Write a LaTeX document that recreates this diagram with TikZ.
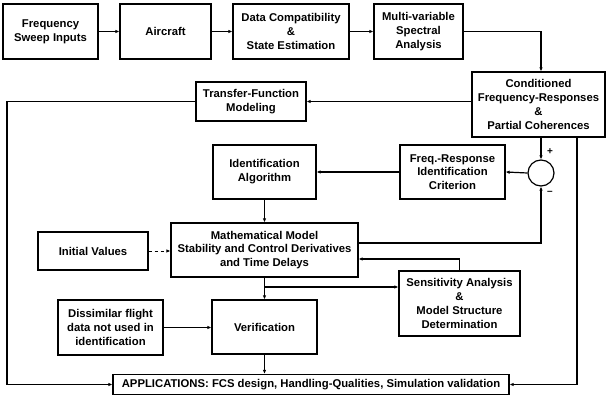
\documentclass[tikz,border=0pt]{standalone}
\usepackage{fontspec}
\setmainfont{Liberation Sans}
\usetikzlibrary{arrows.meta, calc}

\begin{document}
\begin{tikzpicture}[x=1pt, y=-1pt,
  >={Latex[length=4pt,width=3.5pt]},
  blk/.style={draw, line width=1.2pt, align=center, inner sep=0pt,
    font=\bfseries\fontsize{11.3}{13.8}\selectfont},
  link/.style={->, line width=1.2pt},
  wire/.style={line width=1.2pt}]

\useasboundingbox (0,0) rectangle (606,395);

% Top row: test and data processing
\node[blk, minimum width=95, minimum height=55] (sweep) at (50.5,31.5) {Frequency\\Sweep Inputs};
\node[blk, minimum width=91, minimum height=55] (aircraft) at (165.5,31.5) {Aircraft};
\node[blk, minimum width=116, minimum height=55] (datacomp) at (291,31.5) {Data Compatibility\\\&\\State Estimation};
\node[blk, minimum width=89, minimum height=55] (spectral) at (418.5,31.5) {Multi-variable\\Spectral\\Analysis};

% Frequency responses and transfer functions
\node[blk, minimum width=133, minimum height=65] (cond) at (538.5,104.5) {Conditioned\\Frequency-Responses\\\&\\Partial Coherences};
\node[blk, minimum width=110, minimum height=39] (tfm) at (251,101.5) {Transfer-Function\\Modeling};

% Identification loop
\node[blk, minimum width=103, minimum height=54] (ident) at (264.5,172) {Identification\\Algorithm};
\node[blk, minimum width=105, minimum height=54] (crit) at (452.5,172) {Freq.-Response\\Identification\\Criterion};
\node[draw, circle, line width=1.2pt, minimum size=26, inner sep=0pt] (sum) at (541,173) {};
\node[font=\bfseries] (plus) at (550,152) {+};
\node[font=\bfseries] (minus) at (550,193) {--};

\node[blk, minimum width=187, minimum height=54] (mathm) at (264.5,250) {Mathematical Model\\Stability and Control Derivatives\\and Time Delays};
\node[blk, minimum width=110, minimum height=38] (initv) at (93,251) {Initial Values};
\node[blk, minimum width=121, minimum height=65] (sens) at (459.5,303.5) {Sensitivity Analysis\\\&\\Model Structure\\Determination};

% Verification and applications
\node[blk, minimum width=105, minimum height=54] (verif) at (264.5,327) {Verification};
\node[blk, minimum width=105, minimum height=55] (dissim) at (110.5,327.5) {Dissimilar flight\\data not used in\\identification};
\node[blk, minimum width=396, minimum height=20] (apps) at (311,384.5) {APPLICATIONS: FCS design, Handling-Qualities, Simulation validation};

\coordinate (leftrail) at (7,101.5);
\coordinate (rightrail) at (577,137);
\coordinate (split) at (264.5,287);

% Connectors
\draw[link] (sweep) -- (aircraft);
\draw[link] (aircraft) -- (datacomp);
\draw[link] (datacomp) -- (spectral);
\draw[link] (spectral.east) -| (cond.north -| sum);
\draw[link] (cond.west |- tfm) -- (tfm.east);
\draw[link] (tfm.west) -- (leftrail) |- (apps.west);
\draw[link] (cond.south -| sum) -- (sum.north);
\draw[link] (sum.west) -- (crit.east);
\draw[link] (crit.west) -- (ident.east);
\draw[link] (ident.south) -- (mathm.north);
\draw[link, dashed, line width=0.8pt] (initv.east) -- (mathm.west |- initv);
\draw[link] ($(mathm.east)+(0,-7)$) -| (sum.south);
\draw[link] (sens.north) |- ($(mathm.east)+(0,9)$);
\draw[link] (mathm.south) -- (verif.north);
\draw[link] (split) -- (split -| sens.west);
\draw[link] (dissim.east) -- (dissim.east -| verif.west);
\draw[link] (verif.south) -- (verif.south |- apps.north);
\draw[link] (rightrail) |- (apps.east);

\end{tikzpicture}
\end{document}
